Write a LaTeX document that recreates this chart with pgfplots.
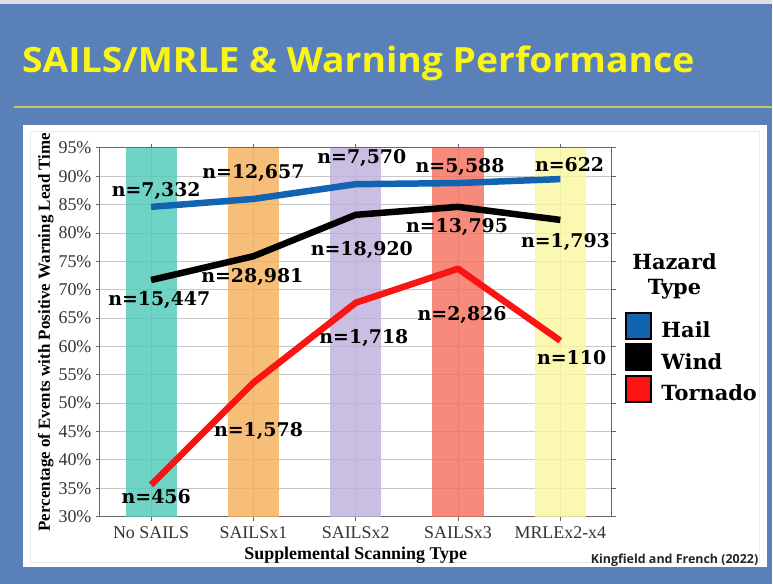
\documentclass[border=0pt]{standalone}
\usepackage{fontspec}
\usepackage{pgfplots}
\pgfplotsset{compat=1.18}
\newfontfamily\lserif{Liberation Serif}
\newfontfamily\dvserif{DejaVu Serif}
\newfontfamily\osans{Open Sans}
\newfontfamily\osanswide{Open Sans}[FakeStretch=1.07]

\definecolor{bgblue}{RGB}{90,128,186}
\definecolor{titleyel}{RGB}{250,245,20}
\definecolor{rulecol}{RGB}{190,205,90}
\definecolor{hailblue}{RGB}{18,100,178}
\definecolor{tornred}{RGB}{250,20,20}
% band colours, drawn at 80% opacity so the grid shows through
\definecolor{bandA}{RGB}{76,201,183}
\definecolor{bandB}{RGB}{246,174,89}
\definecolor{bandC}{RGB}{189,176,219}
\definecolor{bandD}{RGB}{245,111,91}
\definecolor{bandE}{RGB}{250,247,159}

\tikzset{nlab/.style={font=\dvserif\bfseries\fontsize{19}{21}\selectfont, inner sep=0pt}}

\begin{document}
\begin{tikzpicture}
  % slide background
  \fill[bgblue] (0,0) rectangle (773bp,584bp);
  \fill[black!12] (0,580bp) rectangle (773bp,584bp);
  \node[anchor=base west, text=titleyel, inner sep=0pt,
        font=\osanswide\bfseries\fontsize{35}{38}\selectfont]
    at (22bp,511bp) {SAILS/MRLE \& Warning Performance};
  \draw[rulecol, line width=1.2bp] (14bp,477bp) -- (773bp,477bp);
  \fill[white] (23bp,17bp) rectangle (768bp,459bp);
  \draw[black!8, line width=0.8bp] (30bp,21bp) rectangle (760bp,452bp);

  \begin{axis}[
    at={(100bp,67bp)}, anchor=south west,
    scale only axis, width=512bp, height=369bp,
    xmin=-0.5, xmax=4.5, ymin=30, ymax=95,
    xtick={0,1,2,3,4},
    xticklabels={No SAILS,SAILSx1,SAILSx2,SAILSx3,MRLEx2-x4},
    ytick={30,35,...,95},
    yticklabels={30\%,35\%,40\%,45\%,50\%,55\%,60\%,65\%,70\%,75\%,80\%,85\%,90\%,95\%},
    ticklabel style={font=\lserif\fontsize{18}{20}\selectfont, text=black!80},
    xticklabel style={yshift=-3bp},
    yticklabel style={xshift=-1bp},
    grid=major,
    major grid style={black!22, line width=0.9bp},
    axis line style={black!60, line width=1bp},
    tick style={black!60, line width=0.9bp},
    tick align=outside, major tick length=4bp,
    xlabel={Supplemental Scanning Type},
    ylabel={Percentage of Events with Positive Warning Lead Time},
    xlabel style={font=\lserif\bfseries\fontsize{18}{20}\selectfont, yshift=-1bp},
    ylabel style={font=\lserif\bfseries\fontsize{17}{19}\selectfont, yshift=-2bp},
    legend image code/.code={\draw[#1, draw=black, line width=2bp] (0bp,-8bp) rectangle (26bp,18bp);},
    legend style={draw=none, fill=none, inner sep=0pt,
      at={(1.025,0.556)}, anchor=north west,
      row sep=3.5bp,
      font=\dvserif\bfseries\fontsize{21}{23}\selectfont,
      nodes={inner sep=0pt},
      /tikz/every odd column/.append style={column sep=9bp}},
    legend cell align=left,
  ]
    % supplemental scanning bands
    \addplot[ybar, bar width=0.5, bar shift=0pt, fill=bandA, fill opacity=0.8, draw=none, forget plot] coordinates {(0,95)};
    \addplot[ybar, bar width=0.5, bar shift=0pt, fill=bandB, fill opacity=0.8, draw=none, forget plot] coordinates {(1,95)};
    \addplot[ybar, bar width=0.5, bar shift=0pt, fill=bandC, fill opacity=0.8, draw=none, forget plot] coordinates {(2,95)};
    \addplot[ybar, bar width=0.5, bar shift=0pt, fill=bandD, fill opacity=0.8, draw=none, forget plot] coordinates {(3,95)};
    \addplot[ybar, bar width=0.5, bar shift=0pt, fill=bandE, fill opacity=0.8, draw=none, forget plot] coordinates {(4,95)};

    % hazard lines
    \addplot[hailblue, line width=6.5bp, line join=round, forget plot] coordinates {
      (0,84.6) (1,86.0) (2,88.6) (3,88.8) (4,89.5)};
    \addplot[black, line width=6.5bp, line join=round, forget plot] coordinates {
      (0,71.7) (1,75.9) (2,83.2) (3,84.6) (4,82.3)};
    \addplot[tornred, line width=6.5bp, line join=round, forget plot] coordinates {
      (0,35.6) (1,53.6) (2,67.7) (3,73.7) (4,61.0)};

    \addlegendimage{fill=hailblue}
    \addlegendentry{Hail}
    \addlegendimage{fill=black}
    \addlegendentry{Wind}
    \addlegendimage{fill=tornred}
    \addlegendentry{Tornado}

    % sample sizes
    \node[nlab] at (0.05,87.4) {n=7,332};
    \node[nlab] at (1.00,90.6) {n=12,657};
    \node[nlab] at (2.06,93.2) {n=7,570};
    \node[nlab] at (3.02,91.6) {n=5,588};
    \node[nlab] at (4.09,92.0) {n=622};
    \node[nlab] at (0.08,68.2) {n=15,447};
    \node[nlab] at (0.99,72.3) {n=28,981};
    \node[nlab] at (2.06,77.0) {n=18,920};
    \node[nlab] at (2.99,81.1) {n=13,795};
    \node[nlab] at (4.05,78.4) {n=1,793};
    \node[nlab] at (0.05,33.5) {n=456};
    \node[nlab] at (1.05,45.0) {n=1,578};
    \node[nlab] at (2.08,61.5) {n=1,718};
    \node[nlab] at (3.04,65.6) {n=2,826};
    \node[nlab] at (4.11,58.0) {n=110};
  \end{axis}

  \node[font=\dvserif\bfseries\fontsize{21}{25}\selectfont, align=center, inner sep=0pt, anchor=base]
    at (675bp,289bp) {Hazard\\Type};
  \node[anchor=base east, inner sep=0pt, text=black!85,
        font=\osans\bfseries\fontsize{12.5}{14}\selectfont]
    at (759bp,20bp) {Kingfield and French (2022)};
\end{tikzpicture}
\end{document}
